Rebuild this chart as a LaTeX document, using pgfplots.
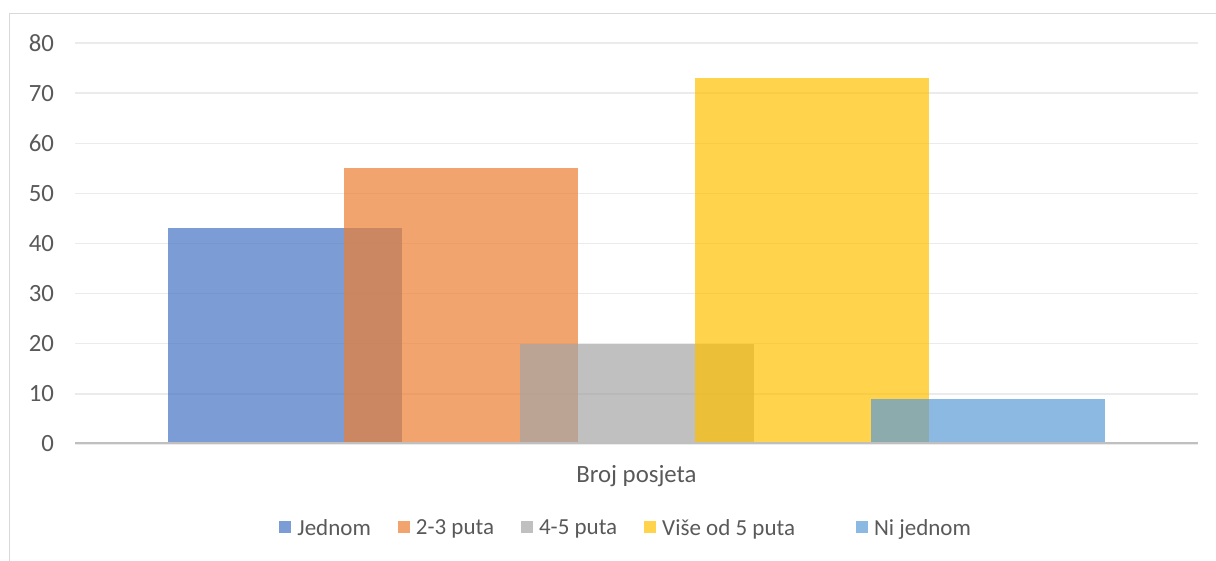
\documentclass[border=0pt]{standalone}
\usepackage{pgfplots}
\pgfplotsset{compat=1.18}
\usepackage{fontspec}
\setmainfont{Carlito}
\definecolor{c1}{HTML}{4472C4}
\definecolor{c2}{HTML}{ED7D31}
\definecolor{c3}{HTML}{A5A5A5}
\definecolor{c4}{HTML}{FFC000}
\definecolor{c5}{HTML}{5B9BD5}
\definecolor{textc}{HTML}{595959}
\definecolor{gridc}{HTML}{EBEBEB}
\definecolor{axisc}{HTML}{BFBFBF}
\definecolor{framec}{HTML}{D9D9D9}
\begin{document}
\begin{tikzpicture}[x=0.5pt,y=0.5pt]
\useasboundingbox (0,0) rectangle (1216,561);
\draw[color=framec, line width=0.7pt] (9.5,-10) -- (9.5,547.5) -- (1230,547.5);
\begin{axis}[
  at={(37.5pt,58.5pt)}, anchor=south west, scale only axis,
  width=561.5pt, height=200.5pt,
  xmin=75, xmax=1198, ymin=0, ymax=80,
  axis line style={draw=none}, major tick length=0pt,
  /pgf/number format/assume math mode=true,
  ytick={0,10,...,80}, ymajorgrids,
  grid style={color=gridc, line width=0.7pt},
  xtick={636.5}, xticklabels={Broj posjeta},
  tick label style={font=\fontsize{12.4}{14}\selectfont, text=textc},
  yticklabel style={anchor=east, xshift=-7pt},
  xticklabel style={anchor=base, yshift=-19.5pt},
  ybar, bar width=234, bar shift=0pt,
  legend columns=5,
  legend style={at={(0.1817,-0.212)}, anchor=west, draw=none, fill=none,
    inner sep=0pt, font=\fontsize{11.5}{13}\selectfont, text=textc,
    nodes={inner sep=0pt},
    /tikz/every odd column/.append style={column sep=3pt},
    /tikz/every even column/.append style={column sep=13.5pt}},
  legend image code/.code={\fill[#1] (0pt,-2pt) rectangle (6pt,4pt);},
]
\addplot[fill=c1, fill opacity=0.7, draw=none, bar shift=0pt] coordinates {(285,43)};
\addplot[fill=c2, fill opacity=0.7, draw=none, bar shift=0pt] coordinates {(461,55)};
\addplot[fill=c3, fill opacity=0.7, draw=none, bar shift=0pt] coordinates {(636.5,20)};
\addplot[fill=c4, fill opacity=0.7, draw=none, bar shift=0pt] coordinates {(812,73)};
\addplot[fill=c5, fill opacity=0.7, draw=none, bar shift=0pt] coordinates {(988,9)};
\legend{Jednom, 2-3 puta, 4-5 puta, Više od 5 puta\hspace*{17pt}, Ni jednom}
\draw[color=axisc, line width=1.5pt] (axis cs:75,0) -- (axis cs:1198,0);
\end{axis}
\end{tikzpicture}
\end{document}
